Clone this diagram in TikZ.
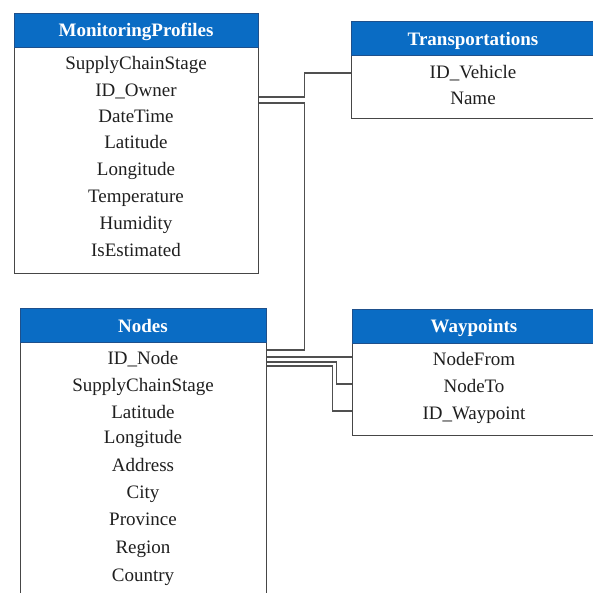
\documentclass[tikz,border=0pt]{standalone}
\usepackage{fontspec}
\setmainfont{Liberation Serif}
\usetikzlibrary{calc}
\definecolor{hdrblue}{RGB}{10,108,196}
\definecolor{hdredge}{RGB}{30,80,140}
\definecolor{boxedge}{RGB}{70,70,70}
\definecolor{linkgray}{RGB}{80,80,80}
\tikzset{
  tablebox/.style={draw=boxedge, line width=1.2pt, fill=white, rectangle, anchor=north west, inner sep=0pt},
  tablehead/.style={draw=hdredge, line width=0.8pt, fill=hdrblue, rectangle, anchor=north west, inner sep=0pt,
    minimum height=34pt},
  title/.style={text=white, font=\fontsize{19}{21}\selectfont\bfseries, inner sep=0pt, text height=13pt, text depth=0pt},
  field/.style={inner sep=0pt, text height=13pt, text depth=0pt, font=\fontsize{19}{21}\selectfont, text=black!88},
  link/.style={draw=linkgray, line width=1.2pt}
}
\begin{document}
\begin{tikzpicture}[x=1pt, y=-1pt]
\clip (0,0) rectangle (593,592);
\fill[white] (0,0) rectangle (593,592);

% MonitoringProfiles table
\node[tablebox, minimum width=244pt, minimum height=260pt] (mp) at (14,13) {};
\node[tablehead, minimum width=244pt] (mpH) at (14,13) {};
\node[title] (mpTitle) at (136,30) {MonitoringProfiles};
\node[field] (mpStage) at (136,63) {SupplyChainStage};
\node[field] (mpOwner) at (136,90) {ID\_Owner};
\node[field] (mpTime)  at (136,116) {DateTime};
\node[field] (mpLat)   at (136,142) {Latitude};
\node[field] (mpLon)   at (136,169) {Longitude};
\node[field] (mpTemp)  at (136,196) {Temperature};
\node[field] (mpHum)   at (136,223) {Humidity};
\node[field] (mpEst)   at (136,250) {IsEstimated};

% Transportations table
\node[tablebox, minimum width=260pt, minimum height=97pt] (tr) at (351,21) {};
\node[tablehead, minimum width=260pt] (trH) at (351,21) {};
\node[title] (trTitle) at (473,39) {Transportations};
\node[field] (trVehicle) at (473,72) {ID\_Vehicle};
\node[field] (trName)    at (473,98) {Name};

% Nodes table
\node[tablebox, minimum width=246pt, minimum height=310pt] (nd) at (20,308) {};
\node[tablehead, minimum width=246pt] (ndH) at (20,308) {};
\node[title] (ndTitle) at (143,326) {Nodes};
\node[field] (ndId)      at (143,358) {ID\_Node};
\node[field] (ndStage)   at (143,385) {SupplyChainStage};
\node[field] (ndLat)     at (143,412) {Latitude};
\node[field] (ndLon)     at (143,437) {Longitude};
\node[field] (ndAddr)    at (143,465) {Address};
\node[field] (ndCity)    at (143,492) {City};
\node[field] (ndProv)    at (143,519) {Province};
\node[field] (ndRegion)  at (143,547) {Region};
\node[field] (ndCountry) at (143,575) {Country};

% Waypoints table
\node[tablebox, minimum width=260pt, minimum height=126pt] (wp) at (352,309) {};
\node[tablehead, minimum width=260pt] (wpH) at (352,309) {};
\node[title] (wpTitle) at (474,326) {Waypoints};
\node[field] (wpFrom) at (474,359) {NodeFrom};
\node[field] (wpTo)   at (474,386) {NodeTo};
\node[field] (wpId)   at (474,413) {ID\_Waypoint};

% Relationships
\draw[link] ($(mpOwner-|mp.east)+(0,7)$) -- ++(45,0) |- ($(trVehicle-|tr.west)+(0,1)$);
\draw[link] ($(mpOwner-|mp.east)+(0,13)$) -- ++(45,0) |- ($(ndId-|nd.east)+(0,-8)$);
\draw[link] ($(ndId-|nd.east)+(0,-1)$) -- ($(wpFrom-|wp.west)+(0,-2)$);
\draw[link] ($(ndId-|nd.east)+(0,4)$) -- ++(69,0) |- ($(wpTo-|wp.west)+(0,-2)$);
\draw[link] ($(ndId-|nd.east)+(0,8)$) -- ++(65,0) |- ($(wpId-|wp.west)+(0,-2)$);
\end{tikzpicture}
\end{document}
